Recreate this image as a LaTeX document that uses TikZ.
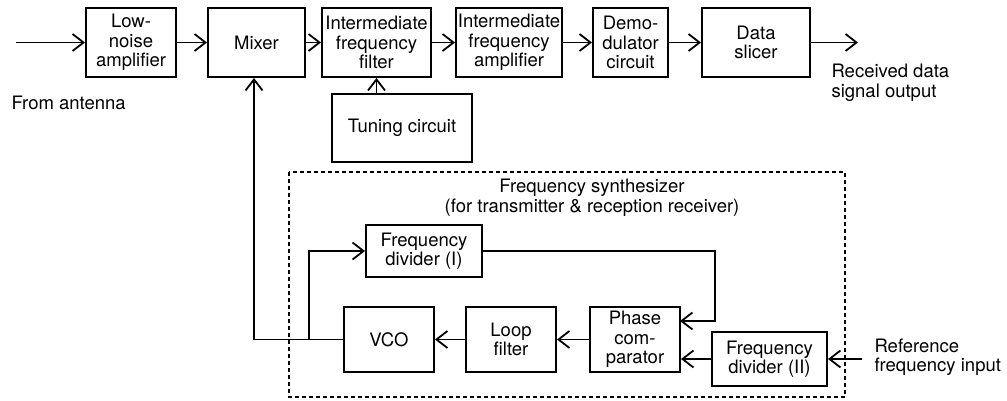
\documentclass[tikz,border=0pt]{standalone}
\usepackage{fontspec}
\setmainfont{TeX Gyre Heros}
\usetikzlibrary{arrows.meta}
\begin{document}
\begin{tikzpicture}[x=1pt,y=-1pt,
  txt/.style={font=\fontsize{18.5}{19.5}\selectfont},
  blk/.style={txt, draw, line width=2pt, align=center, inner sep=0pt},
  wire/.style={line width=1.8pt},
  flow/.style={wire, -{Straight Barb[length=11pt,width=17pt]}},
  frame/.style={line width=2pt, dash pattern=on 4pt off 3pt}]
\useasboundingbox (0,0) rectangle (1007,401);

% receiver chain
\node[blk, minimum width=90pt,  minimum height=69pt] (lna) at (131,42.5)   {Low-\\noise\\amplifier};
\node[blk, minimum width=97pt,  minimum height=69pt] (mix) at (256.5,42.5) {Mixer};
\node[blk, minimum width=109pt, minimum height=69pt] (iff) at (376.5,42.5) {Intermediate\\frequency\\filter};
\node[blk, minimum width=106pt, minimum height=69pt] (ifa) at (509,42.5)   {Intermediate\\frequency\\amplifier};
\node[blk, minimum width=75pt,  minimum height=69pt] (dem) at (630.5,42.5) {Demo-\\dulator\\circuit};
\node[blk, minimum width=108pt, minimum height=69pt] (ds)  at (756,42.5)   {Data\\slicer};
\node[blk, minimum width=140pt, minimum height=68pt] (tun) at (402,128)    {Tuning circuit};

\coordinate (ant) at (16,42.5);
\coordinate (out) at (858,42.5);
\node[txt, anchor=west] (antl) at (8,103) {From antenna};
\node[txt, anchor=west, align=left] (outl) at (828,83) {Received data\\signal output};

\draw[flow] (ant) -- (lna);
\draw[flow] (lna) -- (mix);
\draw[flow] (mix) -- (iff);
\draw[flow] (iff) -- (ifa);
\draw[flow] (ifa) -- (dem);
\draw[flow] (dem) -- (ds);
\draw[flow] (ds) -- (out);
\draw[flow] (iff.south |- tun.north) -- (iff.south);

% frequency synthesizer
\draw[frame] (289,172) rectangle (845,397);
\node[txt, align=center] (fst) at (592,198) {Frequency synthesizer\\(for transmitter \& reception receiver)};

\node[blk, minimum width=116pt, minimum height=52pt] (fd1) at (424,251)     {Frequency\\divider (I)};
\node[blk, minimum width=90pt,  minimum height=65pt] (vco) at (389,339.5)   {VCO};
\node[blk, minimum width=90pt,  minimum height=65pt] (lf)  at (511,339.5)   {Loop\\filter};
\node[blk, minimum width=90pt,  minimum height=65pt] (pc)  at (635,339.5)   {Phase\\com-\\parator};
\node[blk, minimum width=115pt, minimum height=54pt] (fd2) at (769.5,359)   {Frequency\\divider (II)};

\coordinate (ref) at (862,359);
\node[txt, anchor=west, align=left] (refl) at (871,357) {Reference\\frequency input};

\coordinate (fb) at (254,339.5);
\coordinate (br) at (309,339.5);
\coordinate (rt) at (715,251);
\coordinate (pcin) at (680,321);

\draw[flow] (ref) -- (fd2);
\draw[flow] (fd2.west) -- (pc.east |- fd2.west);
\draw[flow] (pc) -- (lf);
\draw[flow] (lf) -- (vco);
\draw[flow] (vco.west) -- (fb) -- (fb |- mix.south);
\draw[flow] (br) |- (fd1.west);
\draw[flow] (fd1.east) -- (rt) |- (pcin);
\end{tikzpicture}
\end{document}
